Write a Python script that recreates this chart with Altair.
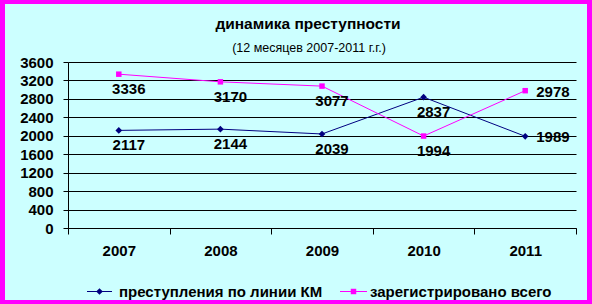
import altair as alt
import pandas as pd

years = ["2007", "2008", "2009", "2010", "2011"]
km_values = [2117, 2144, 2039, 2837, 1989]
total_values = [3336, 3170, 3077, 1994, 2978]
series_names = ["преступления по линии КМ", "зарегистрировано всего"]
series_colors = ["#000080", "#FF00FF"]
y_ticks = [0, 400, 800, 1200, 1600, 2000, 2400, 2800, 3200, 3600]
title_text = "динамика преступности"
subtitle_text = "(12 месяцев  2007-2011 г.г.)"

rows = []
for yr, v in zip(years, km_values):
    rows.append({"year": yr, "value": v, "series": series_names[0]})
for yr, v in zip(years, total_values):
    rows.append({"year": yr, "value": v, "series": series_names[1]})
df = pd.DataFrame(rows)

FONT = "Liberation Sans"

x = alt.X(
    "year:N",
    scale=alt.Scale(type="band", domain=years, paddingInner=0, paddingOuter=0),
    axis=alt.Axis(
        title=None, labelAngle=0, tickBand="extent", labelFontSize=15,
        labelFontWeight="bold", labelFont=FONT, labelPadding=9, tickSize=6,
        grid=False, domainColor="black", tickColor="black", labelColor="black",
    ),
)
y = alt.Y(
    "value:Q",
    scale=alt.Scale(domain=[0, 3600], nice=False),
    axis=alt.Axis(
        title=None, values=y_ticks, format="d", labelFontSize=15, labelFontWeight="bold",
        labelFont=FONT, tickSize=5, labelPadding=10, gridColor="black",
        gridOpacity=1, gridWidth=1, domainColor="black", tickColor="black",
        labelColor="black",
    ),
)
color = alt.Color("series:N", scale=alt.Scale(domain=series_names, range=series_colors), legend=None)

lines = alt.Chart(df).mark_line(strokeWidth=1).encode(x=x, y=y, color=color)

pts_km = alt.Chart(df).transform_filter(
    alt.datum.series == series_names[0]
).mark_point(shape="diamond", filled=True, size=45, opacity=1).encode(x=x, y=y, color=color)

pts_tot = alt.Chart(df).transform_filter(
    alt.datum.series == series_names[1]
).mark_point(shape="square", filled=True, size=30, opacity=1).encode(x=x, y=y, color=color)

lab_main = alt.Chart(df).transform_filter(
    alt.datum.year != "2011"
).mark_text(
    fontSize=15, fontWeight="bold", font=FONT, color="black",
    align="center", baseline="middle", dx=10, dy=15,
).encode(x=x, y=y, text=alt.Text("value:Q", format="d"))

lab_last = alt.Chart(df).transform_filter(
    alt.datum.year == "2011"
).mark_text(
    fontSize=15, fontWeight="bold", font=FONT, color="black",
    align="left", baseline="middle", dx=11, dy=1,
).encode(x=x, y=y, text=alt.Text("value:Q", format="d"))

one = alt.Data(values=[{"k": 1}])

# legend (decoration)
LEG_Y = 229.5
leg1_line = alt.Chart(one).mark_rule(color=series_colors[0], strokeWidth=1).encode(
    x=alt.value(19), x2=alt.value(44), y=alt.value(LEG_Y))
leg1_pt = alt.Chart(one).mark_point(shape="diamond", filled=True, size=45, opacity=1,
                                    color=series_colors[0]).encode(
    x=alt.value(31.5), y=alt.value(LEG_Y))
leg1_txt = alt.Chart(one).mark_text(fontSize=15, fontWeight="bold", font=FONT, color="black",
                                    align="left", baseline="middle").encode(
    x=alt.value(51), y=alt.value(LEG_Y), text=alt.value(series_names[0]))
leg2_line = alt.Chart(one).mark_rule(color=series_colors[1], strokeWidth=1).encode(
    x=alt.value(272), x2=alt.value(299), y=alt.value(LEG_Y))
leg2_pt = alt.Chart(one).mark_point(shape="square", filled=True, size=30, opacity=1,
                                    color=series_colors[1]).encode(
    x=alt.value(285.5), y=alt.value(LEG_Y))
leg2_txt = alt.Chart(one).mark_text(fontSize=15, fontWeight="bold", font=FONT, color="black",
                                    align="left", baseline="middle").encode(
    x=alt.value(302), y=alt.value(LEG_Y), text=alt.value(series_names[1]))

title_mark = alt.Chart(one).mark_text(
    fontSize=15.5, fontWeight="bold", font=FONT, color="black", align="center", baseline="middle"
).encode(x=alt.value(240), y=alt.value(-38), text=alt.value(title_text))
subtitle_mark = alt.Chart(one).mark_text(
    fontSize=12.5, font=FONT, color="black", align="center", baseline="middle"
).encode(x=alt.value(241), y=alt.value(-14), text=alt.value(subtitle_text))

border = alt.Chart(one).mark_rect(
    fillOpacity=0, stroke="#FF00FF", strokeWidth=5
).encode(
    x=alt.value(-65.5), x2=alt.value(521.5), y=alt.value(-60.5), y2=alt.value(240.5)
)

chart = alt.layer(
    lines, pts_km, pts_tot, lab_main, lab_last,
    leg1_line, leg1_pt, leg1_txt, leg2_line, leg2_pt, leg2_txt,
    title_mark, subtitle_mark, border
).properties(
    width=508, height=166,
    autosize=alt.AutoSizeParams(type="none"),
    padding={"left": 68, "top": 62, "right": 16, "bottom": 76},
    background="#CCFFFF",
).configure_view(stroke=None)

chart.save("out.html", embed_options={"renderer": "svg", "actions": False})
